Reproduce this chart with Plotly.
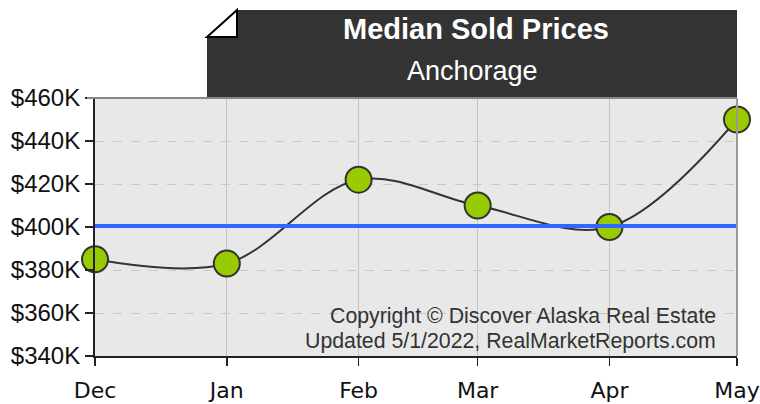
import plotly.graph_objects as go

# ---- data ----
month_dates = ["2021-12-01", "2022-01-01", "2022-02-01", "2022-03-01", "2022-04-01", "2022-05-01"]
month_labels = ["Dec", "Jan", "Feb", "Mar", "Apr", "May"]
median_prices = [385000, 383000, 422000, 410000, 400000, 450000]
reference_price = 400500
y_tick_values = [340000, 360000, 380000, 400000, 420000, 440000, 460000]
y_tick_labels = ["$340K", "$360K", "$380K", "$400K", "$420K", "$440K", "$460K"]
title_text = "Median Sold Prices"
subtitle_text = "Anchorage"
copyright_lines = ["Copyright © Discover Alaska Real Estate",
                   "Updated 5/1/2022, RealMarketReports.com"]

W, H = 760, 404
L, R, T, B = 95, 23, 98, 48
pw, ph = W - L - R, H - T - B
X0, Y1 = L, H - B  # plot-area left / bottom in screen pixels

def px(x):
    return (x - X0) / pw

def py(y):
    return (Y1 - y) / ph

fig = go.Figure()

fig.add_trace(go.Scatter(
    x=month_dates, y=median_prices, mode="lines+markers",
    line=dict(shape="spline", color="#333333", width=2),
    marker=dict(size=26, color="#99cc00", line=dict(color="#333333", width=2)),
    cliponaxis=False, hoverinfo="skip", showlegend=False,
))
fig.add_trace(go.Scatter(
    x=[month_dates[0], month_dates[-1]], y=[reference_price, reference_price],
    mode="lines", line=dict(color="#3366ff", width=4),
    hoverinfo="skip", showlegend=False,
))

shapes = []
# title box with clipped corner
box_path = "M {a},{b} L {c},{b} L {c},{d} L {e},{d} L {e},{f} Z".format(
    a=px(237), b=py(10), c=px(737), d=py(98), e=px(207), f=py(37))
shapes.append(dict(type="path", path=box_path, xref="paper", yref="paper",
                   fillcolor="#333333", line=dict(width=0), layer="above"))
fold_path = "M {a},{b} L {c},{d} L {c},{b} Z".format(
    a=px(207), b=py(37), c=px(237), d=py(10))
shapes.append(dict(type="path", path=fold_path, xref="paper", yref="paper",
                   fillcolor="#ffffff", line=dict(color="#000000", width=2), layer="above"))
# top and right plot borders
shapes.append(dict(type="line", xref="paper", yref="paper", x0=px(87), x1=1, y0=1, y1=1,
                   line=dict(color="#888888", width=2), layer="above"))
shapes.append(dict(type="line", xref="paper", yref="paper", x0=1, x1=1, y0=0, y1=1,
                   line=dict(color="#999999", width=2), layer="above"))

annotations = [
    dict(text="<b>" + title_text + "</b>", x=px(476), y=py(29), xref="paper", yref="paper",
         showarrow=False, xanchor="center", yanchor="middle",
         font=dict(family="Liberation Sans, Arial", size=29, color="#ffffff")),
    dict(text=subtitle_text, x=px(472), y=py(71), xref="paper", yref="paper",
         showarrow=False, xanchor="center", yanchor="middle",
         font=dict(family="Liberation Sans, Arial", size=27, color="#ffffff")),
    dict(text=copyright_lines[0], x=px(718), y=py(316), xref="paper", yref="paper",
         showarrow=False, xanchor="right", yanchor="middle",
         font=dict(family="Liberation Sans, Arial", size=21.3, color="#333333")),
    dict(text=copyright_lines[1], x=px(718), y=py(341), xref="paper", yref="paper",
         showarrow=False, xanchor="right", yanchor="middle",
         font=dict(family="Liberation Sans, Arial", size=21.3, color="#333333")),
]

fig.update_layout(
    width=W, height=H,
    margin=dict(l=L, r=R, t=T, b=B, pad=0, autoexpand=False),
    paper_bgcolor="#ffffff", plot_bgcolor="#e8e8e8",
    shapes=shapes, annotations=annotations, showlegend=False,
    xaxis=dict(
        type="date", range=[month_dates[0], month_dates[-1]],
        tickvals=month_dates, ticktext=month_labels, automargin=False,
        ticklabeloverflow="allow",
        showgrid=True, gridcolor="#c4c4c4", gridwidth=1,
        showline=True, linecolor="#222222", linewidth=2,
        ticks="outside", ticklen=8, tickcolor="#222222", tickwidth=1.5,
        tickfont=dict(family="DejaVu Sans", size=22, color="#111111"),
        ticklabelstandoff=6, zeroline=False, fixedrange=True,
    ),
    yaxis=dict(
        range=[340000, 460000], tickvals=y_tick_values, ticktext=y_tick_labels,
        automargin=False,
        showgrid=True, gridcolor="#c8c8c8", griddash="dash", gridwidth=1,
        showline=True, linecolor="#222222", linewidth=2,
        ticks="outside", ticklen=8, tickcolor="#222222", tickwidth=1.5,
        tickfont=dict(family="Liberation Sans, Arial", size=24, color="#111111"),
        zeroline=False, fixedrange=True,
    ),
)

fig.write_html(
    "out.html",
    config={"displayModeBar": False, "staticPlot": True},
    post_script="document.body.style.margin='0';document.body.style.overflow='hidden';",
)
